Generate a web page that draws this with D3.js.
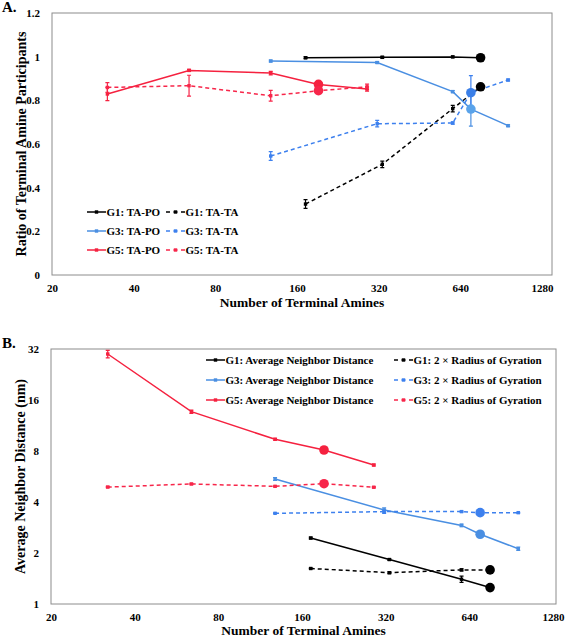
<!DOCTYPE html>
<html><head><meta charset="utf-8">
<script src="https://cdn.jsdelivr.net/npm/d3@7"></script>
<style>
html,body{margin:0;padding:0;background:#fff;}
</style></head>
<body>
<svg id="c" width="567" height="637"></svg>
<script>
// ---------- DATA ----------
const xTicks = [20, 40, 80, 160, 320, 640, 1280];
const yTicksA = [0, 0.2, 0.4, 0.6, 0.8, 1, 1.2];
const yTicksB = [1, 2, 4, 8, 16, 32];

const xG1 = [172, 330, 600, 760];
const xG3 = [128, 316, 600, 700, 960];
const xG5 = [32, 64, 128, 192, 290];
const bigIndex = 3; // highlighted point in each series

// Panel A: ratio of terminal amine participants
const g1TAPO = [0.995, 0.997, 0.999, 0.995];
const g1TAPOerr = [0.004, 0.004, 0.004, 0];
const g1TATA = [0.325, 0.507, 0.762, 0.862];
const g1TATAerr = [0.02, 0.015, 0.015, 0];
const g3TAPO = [0.980, 0.973, 0.840, 0.760, 0.684];
const g3TAPOerr = [0.004, 0.004, 0.005, 0.078, 0.004];
const g3TATA = [0.545, 0.693, 0.696, 0.835, 0.893];
const g3TATAerr = [0.02, 0.015, 0.005, 0.078, 0.004];
const g5TAPO = [0.829, 0.937, 0.925, 0.873, 0.852];
const g5TAPOerr = [0.03, 0.005, 0.008, 0, 0.01];
const g5TATA = [0.859, 0.867, 0.821, 0.844, 0.862];
const g5TATAerr = [0.022, 0.048, 0.025, 0, 0.012];

// Panel B: average neighbor distance / 2 x radius of gyration (nm)
const g1AND = [2.45, 1.83, 1.40, 1.25];
const g1ANDerr = [0.03, 0.02, 0.06, 0];
const g1RG = [1.62, 1.53, 1.59, 1.59];
const g1RGerr = [0.01, 0.02, 0.02, 0];
const g3AND = [5.47, 3.59, 2.91, 2.58, 2.12];
const g3ANDerr = [0.1, 0.1, 0.05, 0, 0.05];
const g3RG = [3.43, 3.51, 3.51, 3.46, 3.46];
const g3RGerr = [0.02, 0.08, 0.02, 0, 0.02];
const g5AND = [29.9, 13.65, 9.38, 8.11, 6.61];
const g5ANDerr = [1.5, 0.3, 0.12, 0, 0.08];
const g5RG = [4.90, 5.11, 4.95, 5.13, 4.89];
const g5RGerr = [0.04, 0.04, 0.04, 0, 0.04];

const legendA = ["G1: TA-PO", "G1: TA-TA", "G3: TA-PO", "G3: TA-TA", "G5: TA-PO", "G5: TA-TA"];
const legendB = ["G1: Average Neighbor Distance", "G1: 2 × Radius of Gyration",
                 "G3: Average Neighbor Distance", "G3: 2 × Radius of Gyration",
                 "G5: Average Neighbor Distance", "G5: 2 × Radius of Gyration"];

// ---------- STYLE ----------
const FONT = "'Liberation Serif', Tinos, 'Times New Roman', 'DejaVu Serif', serif";
const BLACK = "#000000", BLUE = "#4a8fe2", BLUE2 = "#3d80ee", RED = "#f5213f", RED2 = "#f7264a";
const BIGCOL = {g3po: "#5aa3ea", g3ta: "#3a7fe8"};

const svg = d3.select("#c");

function styleText(sel, size) {
  sel.attr("font-family", FONT).attr("font-weight", "bold").attr("font-size", size).attr("fill", "#000")
     .style("font-family", FONT).style("font-weight", "bold");
  return sel;
}

function panel(cfg) {
  const g = svg.append("g");
  const x = d3.scaleLog().base(2).domain([20, 1280]).range(cfg.xr);
  const y = cfg.y;
  g.append("rect").attr("x", cfg.xr[0]).attr("y", cfg.top)
    .attr("width", cfg.right - cfg.xr[0]).attr("height", cfg.bottom - cfg.top)
    .attr("fill", "none").attr("stroke", "#8c8c8c").attr("stroke-width", 1);
  const ax = g.append("g").attr("transform", `translate(0,${cfg.bottom})`)
    .call(d3.axisBottom(x).tickValues(xTicks).tickSize(0).tickPadding(9).tickFormat(d => String(d)));
  ax.select(".domain").remove();
  ax.attr("font-family", FONT);
  styleText(ax.selectAll("text"), 11);
  const ay = g.append("g").attr("transform", `translate(${cfg.xr[0] - 12},0)`)
    .call(d3.axisLeft(y).tickValues(cfg.yTicks).tickSize(0).tickPadding(0).tickFormat(cfg.yFmt));
  ay.select(".domain").remove();
  ay.attr("font-family", FONT);
  styleText(ay.selectAll("text"), 11);
  styleText(g.append("text").attr("x", (cfg.xr[0] + cfg.right) / 2).attr("y", cfg.xTitleY)
    .attr("text-anchor", "middle").text("Number of Terminal Amines"), 13.5);
  styleText(g.append("text").attr("transform", `translate(${cfg.yTitleX},${(cfg.top + cfg.bottom) / 2}) rotate(-90)`)
    .attr("text-anchor", "middle").attr("dominant-baseline", "middle").text(cfg.yTitle), 14);
  styleText(g.append("text").attr("x", 2).attr("y", cfg.top - 1).text(cfg.label), 15);

  const lineLayer = g.append("g"), errLayer = g.append("g"), mkLayer = g.append("g"), bigLayer = g.append("g");
  cfg.series.forEach(s => {
    const pts = s.xs.map((xv, i) => ({x: xv, v: s.vals[i], e: s.err[i], i}));
    const line = d3.line().x(d => x(d.x)).y(d => y(d.v));
    lineLayer.append("path").attr("d", line(pts)).attr("fill", "none")
      .attr("stroke", s.color).attr("stroke-width", 1.5)
      .attr("stroke-dasharray", s.dash ? "4,3" : null);
    pts.forEach(d => {
      if (d.e > 0) {
        const y1 = y(d.v - d.e), y2 = y(d.v + d.e), cx = x(d.x);
        errLayer.append("path").attr("d", `M${cx},${y1}V${y2}M${cx - 2},${y1}H${cx + 2}M${cx - 2},${y2}H${cx + 2}`)
          .attr("stroke", s.color).attr("stroke-width", 1.2).attr("fill", "none");
      }
      if (d.i === bigIndex) {
        bigLayer.append("circle").attr("cx", x(d.x)).attr("cy", y(d.v)).attr("r", 4.8).attr("fill", s.big || s.color);
      } else {
        mkLayer.append("rect").attr("x", x(d.x) - 1.7).attr("y", y(d.v) - 1.7)
          .attr("width", 3.4).attr("height", 3.4).attr("fill", s.color);
      }
    });
  });
  cfg.series.forEach((s, k) => {
    const col = k % 2, row = Math.floor(k / 2);
    const lx = cfg.leg.cols[col], ly = cfg.leg.rows[row];
    g.append("line").attr("x1", lx).attr("x2", lx + 19).attr("y1", ly).attr("y2", ly)
      .attr("stroke", s.color).attr("stroke-width", 1.5).attr("stroke-dasharray", s.dash ? "4,3.5" : null);
    g.append("rect").attr("x", lx + 9.5 - 1.7).attr("y", ly - 1.7).attr("width", 3.4).attr("height", 3.4).attr("fill", s.color);
    styleText(g.append("text").attr("x", lx + 19.5).attr("y", ly).attr("dominant-baseline", "central")
      .text(cfg.leg.names[k]), 11);
  });
}

panel({
  label: "A.", xr: [52, 542], right: 552, top: 13, bottom: 275,
  y: d3.scaleLinear().domain([0, 1.2]).range([275, 13]),
  yTicks: yTicksA, yFmt: d => String(+d.toFixed(1)),
  yTitle: "Ratio of Terminal Amine Participants", yTitleX: 23, xTitleY: 307,
  series: [
    {xs: xG1, vals: g1TAPO, err: g1TAPOerr, color: BLACK},
    {xs: xG1, vals: g1TATA, err: g1TATAerr, color: BLACK, dash: true},
    {xs: xG3, vals: g3TAPO, err: g3TAPOerr, color: BLUE, big: BIGCOL.g3po},
    {xs: xG3, vals: g3TATA, err: g3TATAerr, color: BLUE2, dash: true, big: BIGCOL.g3ta},
    {xs: xG5, vals: g5TAPO, err: g5TAPOerr, color: RED},
    {xs: xG5, vals: g5TATA, err: g5TATAerr, color: RED2, dash: true}
  ],
  leg: {cols: [87, 166], rows: [212, 231, 250], names: legendA}
});

panel({
  label: "B.", xr: [51, 553], right: 556, top: 349, bottom: 604,
  y: d3.scaleLog().base(2).domain([1, 32]).range([604, 349]),
  yTicks: yTicksB, yFmt: d => String(d),
  yTitle: "Average Neighbor Distance (nm)", yTitleX: 22, xTitleY: 635,
  series: [
    {xs: xG1, vals: g1AND, err: g1ANDerr, color: BLACK},
    {xs: xG1, vals: g1RG, err: g1RGerr, color: BLACK, dash: true},
    {xs: xG3, vals: g3AND, err: g3ANDerr, color: BLUE},
    {xs: xG3, vals: g3RG, err: g3RGerr, color: BLUE2, dash: true},
    {xs: xG5, vals: g5AND, err: g5ANDerr, color: RED},
    {xs: xG5, vals: g5RG, err: g5RGerr, color: RED2, dash: true}
  ],
  leg: {cols: [206, 394], rows: [360, 380, 400], names: legendB}
});
</script>
</body></html>
